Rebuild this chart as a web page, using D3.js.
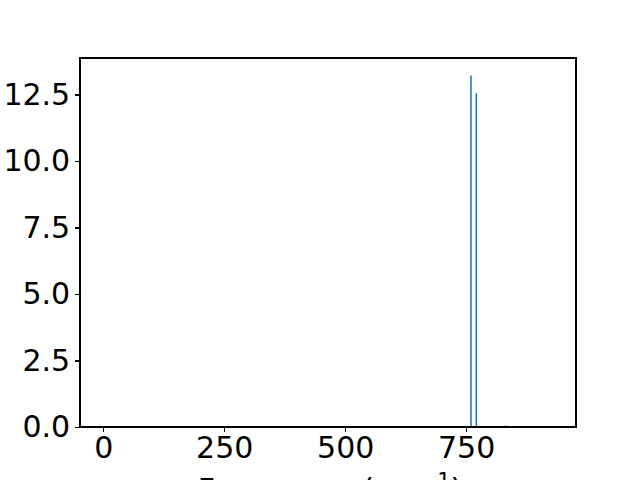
<!DOCTYPE html>
<html lang="en">
<head>
    <meta charset="UTF-8">
    <title>Spectrum</title>
    <script src="https://cdnjs.cloudflare.com/ajax/libs/d3/7.8.5/d3.min.js"></script>
    <style>
        body { margin: 0; background: white; }
        svg { display: block; }
        .axis text { font-family: "DejaVu Sans", sans-serif; font-size: 30px; fill: #000; }
        .axis path, .axis line { stroke: #000; stroke-width: 1.1px; shape-rendering: crispEdges; }
        .bar { fill: #1f77b4; }
        .label { font-family: "DejaVu Sans", sans-serif; font-size: 30px; fill: #000; }
    </style>
</head>
<body>
<div id="chart"></div>
<script>
    // spectrum data (frequency in cm^-1, intensity)
    const frequencies = [760, 771, 831];
    const intensities = [13.21, 12.54, 0.06];
    const xTicks = [0, 250, 500, 750];
    const yTicks = [0, 2.5, 5, 7.5, 10, 12.5];
    const barWidth = 3.2;

    const width = 640, height = 480;
    const margin = { top: 58, right: 64, bottom: 53, left: 80 };
    const chartWidth = width - margin.left - margin.right;
    const chartHeight = height - margin.top - margin.bottom;

    const svg = d3.select("#chart").append("svg")
        .attr("width", width)
        .attr("height", height);

    const chart = svg.append("g")
        .attr("transform", `translate(${margin.left},${margin.top})`);

    const x = d3.scaleLinear()
        .domain([-48, 977])
        .range([0, chartWidth]);

    const y = d3.scaleLinear()
        .domain([0, d3.max(intensities) * 1.05])
        .range([chartHeight, 0]);

    chart.selectAll(".bar")
        .data(frequencies)
        .enter().append("rect")
        .attr("class", "bar")
        .attr("x", d => x(d - barWidth / 2))
        .attr("width", x(barWidth) - x(0))
        .attr("y", (d, i) => y(intensities[i]))
        .attr("height", (d, i) => Math.max(chartHeight - y(intensities[i]), 1));

    chart.append("g")
        .attr("class", "axis")
        .attr("transform", `translate(0,${chartHeight})`)
        .call(d3.axisBottom(x).tickValues(xTicks).tickSizeOuter(0).tickSize(4.9).tickPadding(4.9))
        .call(g => g.select(".domain").remove());

    chart.append("g")
        .attr("class", "axis")
        .call(d3.axisLeft(y).tickValues(yTicks).tickFormat(d3.format(".1f")).tickSizeOuter(0).tickSize(4.9).tickPadding(4.9))
        .call(g => g.select(".domain").remove());

    // frame
    chart.append("rect")
        .attr("width", chartWidth)
        .attr("height", chartHeight)
        .attr("fill", "none")
        .attr("stroke", "#000")
        .attr("stroke-width", 1.1)
        .attr("shape-rendering", "crispEdges");

    const xlabel = svg.append("text")
        .attr("class", "label")
        .attr("x", margin.left + chartWidth / 2 + 2)
        .attr("y", 500)
        .attr("text-anchor", "middle");
    xlabel.append("tspan").text("Frequency (cm");
    xlabel.append("tspan").attr("font-size", "21px").attr("dy", -12).text("\u22121");
    xlabel.append("tspan").attr("dy", 12).text(")");
</script>
</body>
</html>
